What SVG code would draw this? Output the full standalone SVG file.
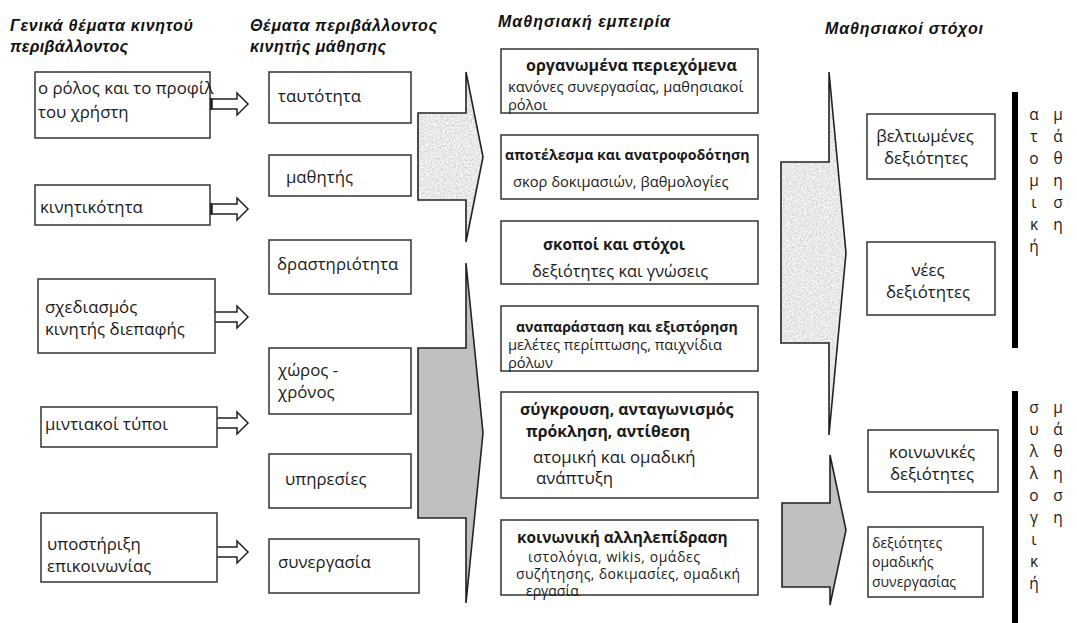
<svg xmlns="http://www.w3.org/2000/svg" width="1077" height="623" viewBox="0 0 1077 623">
  <style>
    .box{fill:#fff;stroke:#333;stroke-width:1.5}
    .t{font-family:"Open Sans","Noto Sans",sans-serif;font-size:16.8px;fill:#1a1a1a}
    .b{font-weight:bold}
    .s{font-size:14.7px}
    .m{text-anchor:middle}
    .h{font-family:"Liberation Sans",Arial,sans-serif;font-weight:bold;font-style:italic;font-size:16px;fill:#111}
    .ar{fill:#fff;stroke:#222;stroke-width:1.5;stroke-linejoin:miter}
    .tab{fill:#111}
    .edge{fill:none;stroke:#222;stroke-width:1.6;stroke-linejoin:miter}
    .grey{fill:#c0c0c0}
    .bar{fill:#000}
    .v{font-family:"Open Sans","Noto Sans",sans-serif;font-size:15.5px;fill:#1a1a1a;text-anchor:middle}
  </style>
  <defs>
    <!-- grainy light-grey fill for the textured block arrows -->
    <filter id="grain" x="0%" y="0%" width="100%" height="100%" color-interpolation-filters="sRGB">
      <feTurbulence type="fractalNoise" baseFrequency="0.55" numOctaves="2" seed="7" result="n"/>
      <feColorMatrix in="n" type="matrix" values="0.33 0.33 0.33 0 0  0.33 0.33 0.33 0 0  0.33 0.33 0.33 0 0  0 0 0 0 1" result="g"/>
      <feComponentTransfer in="g" result="g2">
        <feFuncR type="linear" slope="0.55" intercept="0.64"/>
        <feFuncG type="linear" slope="0.55" intercept="0.64"/>
        <feFuncB type="linear" slope="0.55" intercept="0.64"/>
      </feComponentTransfer>
      <feComposite in="g2" in2="SourceGraphic" operator="in"/>
    </filter>
    <!-- small outlined arrow with a dark tab at its base -->
    <g id="smallArrow">
      <rect class="tab" x="-7" y="-6" width="7" height="12"/>
      <rect x="-3.5" y="-5" width="1" height="10" fill="#777"/>
      <polygon class="ar" points="0,-5 25,-5 25,-11 36,0 25,11 25,5 0,5"/>
    </g>
  </defs>

  <rect width="1077" height="623" fill="#fff"/>

  <!-- column headings -->
  <g id="headings">
    <text class="h" x="10" y="31" textLength="183">Γενικά θέματα κινητού</text>
    <text class="h" x="10" y="52" textLength="118">περιβάλλοντος</text>
    <text class="h" x="250" y="31" textLength="187">Θέματα περιβάλλοντος</text>
    <text class="h" x="250" y="52" textLength="136">κινητής μάθησης</text>
    <text class="h" x="498" y="27" textLength="172">Μαθησιακή εμπειρία</text>
    <text class="h" x="825" y="34" textLength="158">Μαθησιακοί στόχοι</text>
  </g>

  <!-- connectors: small arrows and block arrows -->
  <g id="connectors">
    <use href="#smallArrow" x="212" y="104"/>
    <use href="#smallArrow" x="212" y="209"/>
    <use href="#smallArrow" x="212" y="317"/>
    <use href="#smallArrow" x="212" y="423"/>
    <use href="#smallArrow" x="212" y="552"/>

    <path d="M418,113 H466 V72 L483,157 L466,242 V200 H418 Z" fill="#000" filter="url(#grain)"/>
    <path class="edge" d="M418,113 H466 V72 L483,157 L466,242 V200 H418 Z"/>

    <path class="grey" d="M418,348 H466 V263 L483,433 L466,603 V518 H418 Z"/>
    <path class="edge" d="M418,348 H466 V263 L483,433 L466,603 V518 H418 Z"/>

    <path d="M781,162 H829 V72 L846,253 L829,435 V343 H781 Z" fill="#000" filter="url(#grain)"/>
    <path class="edge" d="M781,162 H829 V72 L846,253 L829,435 V343 H781 Z"/>

    <path class="grey" d="M782,503 H830 V455 L846,530 L830,605 V587 H782 Z"/>
    <path class="edge" d="M782,503 H830 V455 L846,530 L830,605 V587 H782 Z"/>
  </g>

  <!-- general mobile environment topics -->
  <g id="n-role">
    <rect class="box" x="35" y="72" width="175" height="66"/>
    <text class="t" x="38" y="94">ο ρόλος και το προφίλ</text>
    <text class="t" x="38" y="118">του  χρήστη</text>
  </g>
  <g id="n-mobility">
    <rect class="box" x="35" y="185" width="175" height="40"/>
    <text class="t" x="40" y="213">κινητικότητα</text>
  </g>
  <g id="n-interface">
    <rect class="box" x="38" y="279" width="177" height="74"/>
    <text class="t" x="45" y="313">σχεδιασμός</text>
    <text class="t" x="45" y="335">κινητής διεπαφής</text>
  </g>
  <g id="n-media">
    <rect class="box" x="41" y="407" width="176" height="40"/>
    <text class="t" x="45" y="430">μιντιακοί τύποι</text>
  </g>
  <g id="n-comm">
    <rect class="box" x="41" y="513" width="176" height="69"/>
    <text class="t" x="47" y="550">υποστήριξη</text>
    <text class="t" x="47" y="572">επικοινωνίας</text>
  </g>

  <!-- mobile learning environment topics -->
  <g id="n-identity">
    <rect class="box" x="269" y="72" width="142" height="51"/>
    <text class="t" x="278" y="102">ταυτότητα</text>
  </g>
  <g id="n-learner">
    <rect class="box" x="269" y="155" width="142" height="41"/>
    <text class="t" x="286" y="183">μαθητής</text>
  </g>
  <g id="n-activity">
    <rect class="box" x="269" y="240" width="142" height="54"/>
    <text class="t" x="277" y="270">δραστηριότητα</text>
  </g>
  <g id="n-spacetime">
    <rect class="box" x="269" y="348" width="142" height="66"/>
    <text class="t" x="278" y="376">χώρος -</text>
    <text class="t" x="278" y="398">χρόνος</text>
  </g>
  <g id="n-services">
    <rect class="box" x="269" y="454" width="142" height="54"/>
    <text class="t" x="285" y="485">υπηρεσίες</text>
  </g>
  <g id="n-collab">
    <rect class="box" x="269" y="539" width="150" height="54"/>
    <text class="t" x="278" y="568">συνεργασία</text>
  </g>

  <!-- learning experience -->
  <g id="n-content">
    <rect class="box" x="501" y="49" width="257" height="64"/>
    <text class="t b" x="526" y="71" style="font-size:16px">οργανωμένα περιεχόμενα</text>
    <text class="t s" x="508" y="92">κανόνες συνεργασίας, μαθησιακοί</text>
    <text class="t s" x="508" y="110">ρόλοι</text>
  </g>
  <g id="n-feedback">
    <rect class="box" x="501" y="135" width="257" height="64"/>
    <text class="t b" x="505" y="160" style="font-size:14.2px">αποτέλεσμα και ανατροφοδότηση</text>
    <text class="t s" x="513" y="187">σκορ δοκιμασιών, βαθμολογίες</text>
  </g>
  <g id="n-goals">
    <rect class="box" x="501" y="221" width="257" height="63"/>
    <text class="t b" x="543" y="250" style="font-size:15.3px">σκοποί και στόχοι</text>
    <text class="t" x="532" y="277" style="font-size:16.4px">δεξιότητες και γνώσεις</text>
  </g>
  <g id="n-story">
    <rect class="box" x="501" y="306" width="257" height="65"/>
    <text class="t b" x="516" y="332" style="font-size:14.1px">αναπαράσταση και εξιστόρηση</text>
    <text class="t s" x="508" y="350">μελέτες περίπτωσης, παιχνίδια</text>
    <text class="t s" x="508" y="368">ρόλων</text>
  </g>
  <g id="n-conflict">
    <rect class="box" x="501" y="392" width="257" height="106"/>
    <text class="t b" x="520" y="415" style="font-size:15.8px">σύγκρουση, ανταγωνισμός</text>
    <text class="t b" x="526" y="437" style="font-size:15.8px">πρόκληση, αντίθεση</text>
    <text class="t" x="533" y="463">ατομική και ομαδική</text>
    <text class="t" x="536" y="484">ανάπτυξη</text>
  </g>
  <g id="n-social">
    <rect class="box" x="501" y="520" width="257" height="75"/>
    <text class="t b" x="517" y="543" style="font-size:15.4px">κοινωνική αλληλεπίδραση</text>
    <text class="t" x="528" y="562" style="font-size:14px" textLength="172">ιστολόγια, wikis, ομάδες</text>
    <text class="t" x="516" y="579" style="font-size:14px" textLength="224">συζήτησης, δοκιμασίες, ομαδική</text>
    <text class="t" x="526" y="596" style="font-size:14px">εργασία</text>
  </g>

  <!-- learning goals -->
  <g id="n-improved">
    <rect class="box" x="867" y="114" width="128" height="65"/>
    <text class="t m" x="925" y="142">βελτιωμένες</text>
    <text class="t m" x="926" y="164">δεξιότητες</text>
  </g>
  <g id="n-new">
    <rect class="box" x="867" y="242" width="128" height="73"/>
    <text class="t m" x="928" y="276">νέες</text>
    <text class="t m" x="928" y="298">δεξιότητες</text>
  </g>
  <g id="n-socialskills">
    <rect class="box" x="868" y="430" width="130" height="62"/>
    <text class="t m" x="932" y="458">κοινωνικές</text>
    <text class="t m" x="932" y="480">δεξιότητες</text>
  </g>
  <g id="n-teamwork">
    <rect class="box" x="868" y="527" width="115" height="70"/>
    <text class="t" x="872" y="548" style="font-size:14px">δεξιότητες</text>
    <text class="t" x="872" y="567" style="font-size:14px">ομαδικής</text>
    <text class="t" x="872" y="587" style="font-size:14px">συνεργασίας</text>
  </g>

  <!-- individual learning band -->
  <g id="band-individual">
    <rect class="bar" x="1012" y="92" width="6" height="256"/>
    <text class="v" x="1034" y="120">α</text>
    <text class="v" x="1034" y="142">τ</text>
    <text class="v" x="1034" y="164">ο</text>
    <text class="v" x="1034" y="186">μ</text>
    <text class="v" x="1034" y="208">ι</text>
    <text class="v" x="1034" y="230">κ</text>
    <text class="v" x="1034" y="252">ή</text>
    <text class="v" x="1058" y="120">μ</text>
    <text class="v" x="1058" y="142">ά</text>
    <text class="v" x="1058" y="164">θ</text>
    <text class="v" x="1058" y="186">η</text>
    <text class="v" x="1058" y="208">σ</text>
    <text class="v" x="1058" y="230">η</text>
  </g>

  <!-- collaborative learning band -->
  <g id="band-collective">
    <rect class="bar" x="1012" y="391" width="6" height="232"/>
    <text class="v" x="1034" y="413">σ</text>
    <text class="v" x="1034" y="435">υ</text>
    <text class="v" x="1034" y="457">λ</text>
    <text class="v" x="1034" y="479">λ</text>
    <text class="v" x="1034" y="501">ο</text>
    <text class="v" x="1034" y="523">γ</text>
    <text class="v" x="1034" y="545">ι</text>
    <text class="v" x="1034" y="567">κ</text>
    <text class="v" x="1034" y="589">ή</text>
    <text class="v" x="1058" y="413">μ</text>
    <text class="v" x="1058" y="435">ά</text>
    <text class="v" x="1058" y="457">θ</text>
    <text class="v" x="1058" y="479">η</text>
    <text class="v" x="1058" y="501">σ</text>
    <text class="v" x="1058" y="523">η</text>
  </g>
</svg>
